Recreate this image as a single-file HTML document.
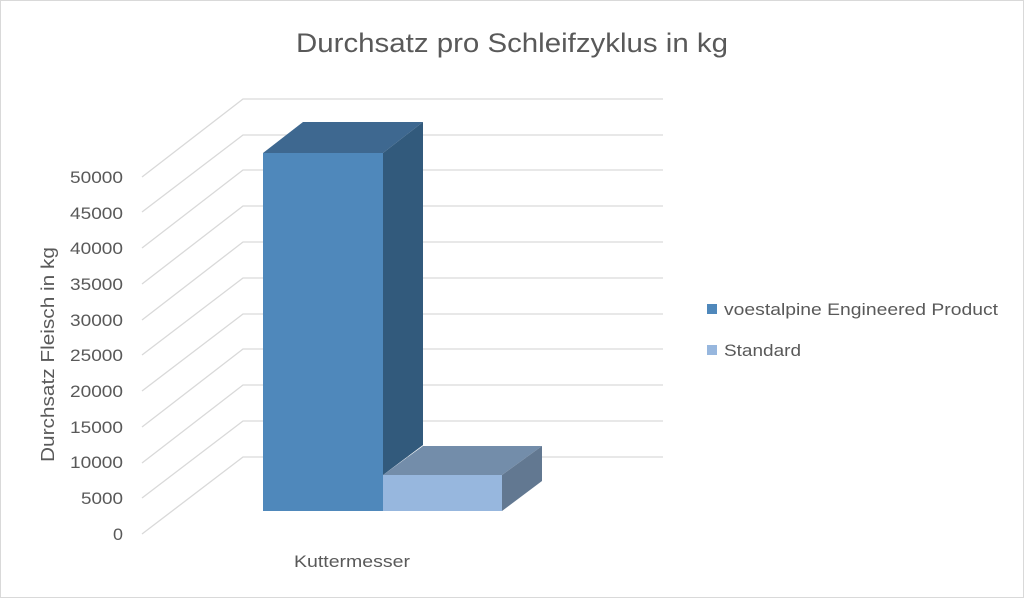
<!DOCTYPE html>
<html><head><meta charset="utf-8"><style>
html,body{margin:0;padding:0;background:#fff;}
svg{display:block;}
text{font-family:"Liberation Sans",sans-serif;fill:#595959;}
</style></head><body>
<svg width="1024" height="598" viewBox="0 0 1024 598">
<rect x="0.5" y="0.5" width="1023" height="597" fill="#fff" stroke="#d9d9d9"/>
<text x="296" y="52" font-size="27" textLength="432" lengthAdjust="spacingAndGlyphs">Durchsatz pro Schleifzyklus in kg</text>
<g stroke="#d9d9d9" stroke-width="1.3" fill="none">
<polyline points="142,534 243,457 663,457"/>
<polyline points="142,498 243,421 663,421"/>
<polyline points="142,463 243,385 663,385"/>
<polyline points="142,427 243,349 663,349"/>
<polyline points="142,391 243,314 663,314"/>
<polyline points="142,355 243,278 663,278"/>
<polyline points="142,320 243,242 663,242"/>
<polyline points="142,284 243,206 663,206"/>
<polyline points="142,248 243,170 663,170"/>
<polyline points="142,212 243,135 663,135"/>
<polyline points="142,177 243,99 663,99"/>
</g>
<g font-size="17">
<text x="70" y="183" textLength="53" lengthAdjust="spacingAndGlyphs">50000</text>
<text x="70" y="219" textLength="53" lengthAdjust="spacingAndGlyphs">45000</text>
<text x="70" y="254" textLength="53" lengthAdjust="spacingAndGlyphs">40000</text>
<text x="70" y="290" textLength="53" lengthAdjust="spacingAndGlyphs">35000</text>
<text x="70" y="326" textLength="53" lengthAdjust="spacingAndGlyphs">30000</text>
<text x="70" y="361" textLength="53" lengthAdjust="spacingAndGlyphs">25000</text>
<text x="70" y="397" textLength="53" lengthAdjust="spacingAndGlyphs">20000</text>
<text x="70" y="433" textLength="53" lengthAdjust="spacingAndGlyphs">15000</text>
<text x="70" y="468" textLength="53" lengthAdjust="spacingAndGlyphs">10000</text>
<text x="81" y="504" textLength="42" lengthAdjust="spacingAndGlyphs">5000</text>
<text x="113" y="540" textLength="10" lengthAdjust="spacingAndGlyphs">0</text>
</g>
<text transform="translate(54,462) rotate(-90)" font-size="18" textLength="215" lengthAdjust="spacingAndGlyphs">Durchsatz Fleisch in kg</text>
<polygon points="383,475 423,446 542,446 502,475" fill="#738DAA"/>
<polygon points="502,475 542,446 542,481 502,511" fill="#627891"/>
<rect x="383" y="475" width="119" height="36" fill="#97B7DE"/>
<polygon points="263,153 303,122 423,122 383,153" fill="#3E6890"/>
<polygon points="383,153 423,122 423,445 383,475" fill="#325A7C"/>
<rect x="263" y="153" width="120" height="358" fill="#4F88BB"/>
<text x="294" y="567" font-size="17" textLength="116" lengthAdjust="spacingAndGlyphs">Kuttermesser</text>
<rect x="707" y="304" width="10" height="10" fill="#4F88BB"/>
<text x="724" y="315" font-size="17" textLength="274" lengthAdjust="spacingAndGlyphs">voestalpine Engineered Product</text>
<rect x="707" y="345" width="10" height="10" fill="#97B7DE"/>
<text x="724" y="356" font-size="17" textLength="77" lengthAdjust="spacingAndGlyphs">Standard</text>
</svg>
</body></html>
